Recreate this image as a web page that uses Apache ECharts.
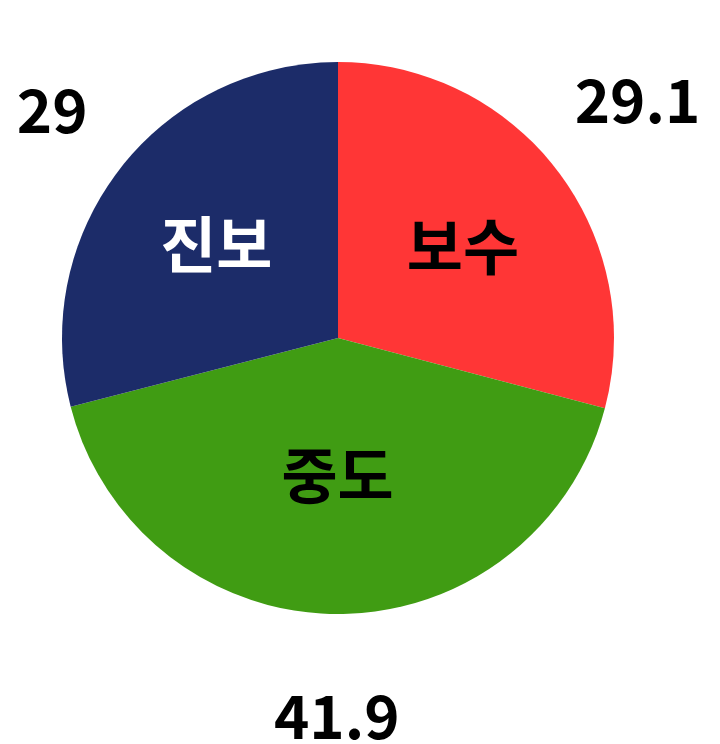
<!DOCTYPE html>
<html><head><meta charset="utf-8">
<script src="https://cdn.jsdelivr.net/npm/echarts@6/dist/echarts.min.js"></script>
<style>html,body{margin:0;padding:0;background:#fff}#c{width:720px;height:744px}</style>
</head><body><div id="c"></div>
<script>
const categories = ['보수', '중도', '진보'];
const values = [29.1, 41.9, 29];
const colors = ['#FF3636', '#409C13', '#1C2C69'];
const innerLabelColors = ['#000000', '#000000', '#FFFFFF'];

const font = '"Noto Sans CJK KR", "Noto Sans", sans-serif';
const chart = echarts.init(document.getElementById('c'), null, {renderer: 'canvas'});
const center = [338, 338];
const innerShift = [[3, 3], [0, -16], [0, 1]];
const outerShift = [[-3, -5], [0, -4], [16, 6]];
chart.setOption({
  animation: false,
  series: [
    {
      type: 'pie', center, radius: [0, 276], startAngle: 90, clockwise: true,
      silent: true, label: {show: false}, labelLine: {show: false},
      data: categories.map((n, i) => ({name: n, value: values[i], itemStyle: {color: colors[i]}}))
    },
    {
      type: 'pie', center, radius: [22, 280], startAngle: 90, clockwise: true, silent: true,
      itemStyle: {color: 'rgba(0,0,0,0)'}, labelLine: {show: false},
      label: {show: true, position: 'inside', formatter: '{b}', fontFamily: font, fontWeight: 'bold', fontSize: 61},
      labelLayout: p => ({dx: innerShift[p.dataIndex][0], dy: innerShift[p.dataIndex][1]}),
      data: categories.map((n, i) => ({name: n, value: values[i], label: {color: innerLabelColors[i]}}))
    },
    {
      type: 'pie', center, radius: [280, 478], startAngle: 90, clockwise: true, silent: true,
      itemStyle: {color: 'rgba(0,0,0,0)'}, labelLine: {show: false},
      label: {show: true, position: 'inside', formatter: '{c}', color: '#000', fontFamily: font, fontWeight: 'bold', fontSize: 60},
      labelLayout: p => ({dx: outerShift[p.dataIndex][0], dy: outerShift[p.dataIndex][1]}),
      data: categories.map((n, i) => ({name: n, value: values[i]}))
    }
  ]
});
</script></body></html>
